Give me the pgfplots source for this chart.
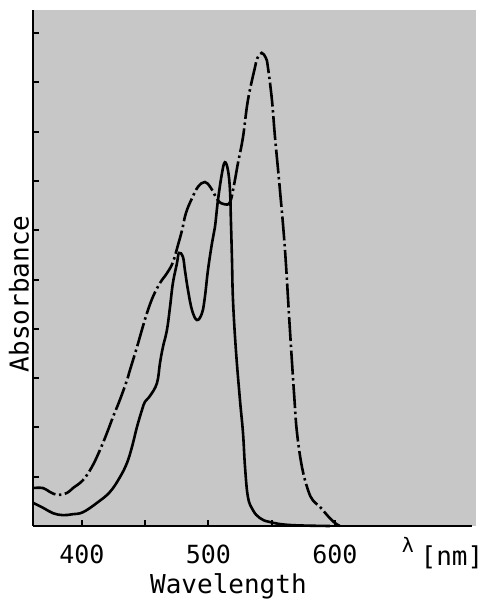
\documentclass[border=0pt]{standalone}
\usepackage{fontspec}
\setmainfont{DejaVu Sans Mono}
\usepackage{pgfplots}
\pgfplotsset{compat=1.18}

\pgfplotstableread{
x y
361.3 0.47
369.2 0.37
377.1 0.26
385.0 0.22
392.9 0.24
400.8 0.28
411.9 0.47
422.1 0.69
430.0 0.99
435.6 1.28
439.5 1.60
443.5 2.01
447.4 2.35
449.8 2.52
453.8 2.64
459.3 2.90
461.7 3.31
464.0 3.63
467.2 3.98
469.6 4.44
471.9 4.93
475.1 5.33
476.7 5.54
479.8 5.46
481.4 5.19
483.8 4.79
487.0 4.38
490.9 4.18
494.9 4.32
497.2 4.65
499.6 5.19
502.8 5.74
505.1 6.06
507.5 6.61
510.7 7.16
513.0 7.38
515.4 7.22
517.0 6.82
517.8 6.15
518.6 5.40
519.4 4.58
521.7 3.57
524.9 2.56
527.3 1.89
528.9 1.20
531.2 0.59
535.2 0.32
540.7 0.16
548.6 0.08
564.4 0.02
596.0 0.00
}\solid

\pgfplotstableread{
x y
361.3 0.77
369.2 0.77
374.7 0.69
381.0 0.63
388.1 0.67
392.9 0.77
400.8 0.93
407.9 1.20
414.2 1.54
419.8 1.89
424.5 2.21
430.0 2.56
435.6 2.96
437.9 3.16
443.5 3.63
447.4 3.98
451.4 4.32
456.1 4.65
461.7 4.93
467.2 5.13
471.9 5.35
475.9 5.70
479.1 6.00
482.2 6.35
487.0 6.65
491.7 6.88
497.2 6.98
501.9 6.86
507.5 6.61
512.3 6.53
517.0 6.57
520.2 6.92
523.3 7.36
527.3 7.89
531.2 8.64
536.8 9.31
538.6 9.49
542.1 9.60
545.5 9.49
547.0 9.31
550.2 8.64
552.6 7.89
556.5 6.82
560.5 5.60
564.4 3.98
568.0 2.56
570.0 1.89
573.9 1.20
578.7 0.73
582.6 0.52
588.1 0.39
594.5 0.20
600.0 0.06
603.9 0.00
}\dashdot

\begin{document}
\begin{tikzpicture}
\begin{axis}[
    at={(0,0)}, anchor=south west,
    scale only axis, width=221.5pt, height=258pt,
    xmin=361.3, xmax=711.5, ymin=0, ymax=10.47,
    axis lines=left,
    axis line style={-, line width=1pt, black},
    x axis line style={shorten >=2pt},
    axis background/.style={fill=black!22},
    xtick={400,450,500,550,600}, xticklabels={400,,500,,600},
    ytick={1,2,3,4,5,6,7,8,9,10}, yticklabels={},
    tick align=inside, major tick length=3pt,
    tick style={black, line width=1pt},
    xticklabel style={font=\fontsize{12.5}{14}\selectfont, yshift=-6pt},
    clip=false]
  \addplot[black, line width=1.3pt, smooth, tension=0.65] table[x=x, y=y] {\solid};
  \addplot[black, line width=1.3pt, smooth, tension=0.65,
    dash pattern=on 12pt off 1.8pt on 1.2pt off 1.8pt] table[x=x, y=y] {\dashdot};
  \node[font=\fontsize{13}{15}\selectfont] at (axis cs:515.8,-1.22) {Wavelength};
  \node[font=\fontsize{13}{15}\selectfont, rotate=90] at (axis cs:350.2,4.71) {Absorbance};
  \node[font=\fontsize{13}{15}\selectfont] at (axis cs:692.5,-0.63) {[nm]};
  \node[font=\fontsize{10}{11}\selectfont] at (axis cs:657.7,-0.38) {λ};
\end{axis}
\pgfresetboundingbox
\useasboundingbox (-16.5pt,-38.5pt) rectangle (224.5pt,263pt);
\end{tikzpicture}
\end{document}
